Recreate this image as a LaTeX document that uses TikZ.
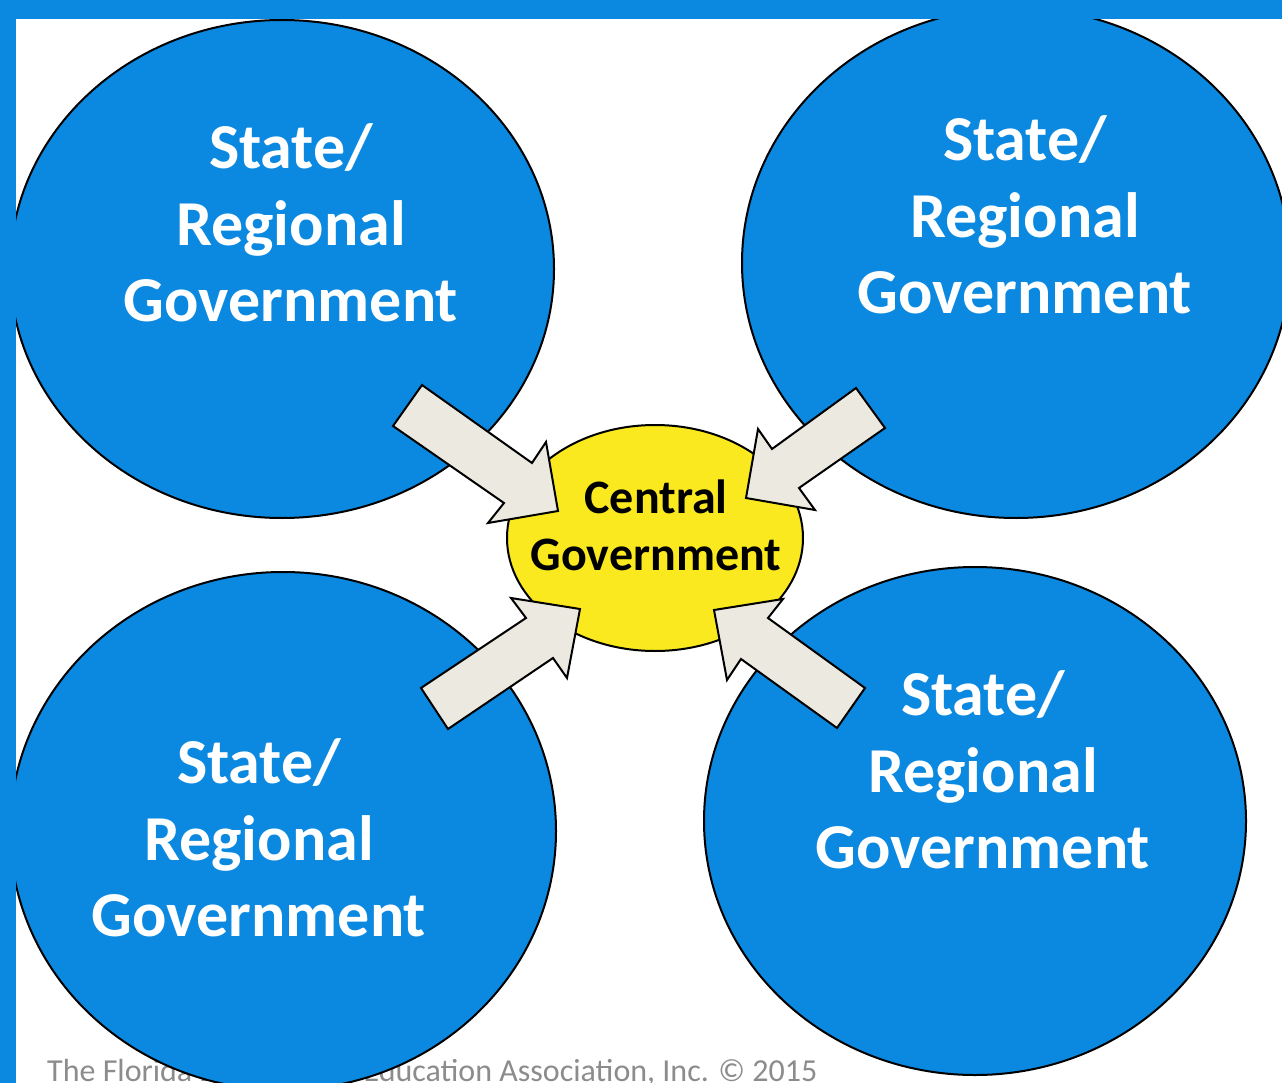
\documentclass[tikz,border=0pt]{standalone}
\usepackage{fontspec}
\setmainfont{Carlito}
\usepackage{tikz}
\usetikzlibrary{shapes.geometric}
\definecolor{govblue}{RGB}{11,137,224}
\definecolor{centralyellow}{RGB}{249,233,30}
\definecolor{arrowfill}{RGB}{236,234,224}
\definecolor{footgray}{RGB}{140,140,140}

\begin{document}
\begin{tikzpicture}[x=1pt, y=-1pt,
	region/.style={ellipse, draw, line width=2pt, fill=govblue, inner sep=0pt},
	regtext/.style={text=white, font=\fontsize{64}{76.5}\selectfont\bfseries, align=center},
	blockarrow/.style={draw, line width=2pt, fill=arrowfill, line join=miter}]
	\clip (0,0) rectangle (1282,1083);
	\fill[white] (0,0) rectangle (1282,1083);
	% Footer
	\node[anchor=base west, inner sep=0pt, text=footgray, font=\fontsize{32}{38}\selectfont] (credit) at (47,1081) {The Florida Law Related Education Association, Inc. \textcopyright{} 2015};
	% Regional governments
	\foreach \n/\cx/\cy/\w/\h/\tx/\ty in {1/282/269/544/498/291/223, 2/1016/263/548/510/1025/215, 3/283/831/546/518/259/838, 4/975/821/542/508/983/770} {
		\node[region, minimum width=\w pt, minimum height=\h pt] (state\n) at (\cx,\cy) {};
		\node[regtext] (label\n) at (\tx,\ty) {State/\\Regional\\Government};
	}
	% Central government
	\node[ellipse, draw, line width=2pt, fill=centralyellow, inner sep=0pt, minimum width=296pt, minimum height=226pt] (central) at (655,538) {};
	\node[font=\fontsize{48}{57}\selectfont\bfseries, align=center] (centraltext) at (656,525) {Central\\Government};
	% Arrows
	\draw[blockarrow] (422,385) -- (532,463) -- (546,442) -- (558,511) -- (488,523) -- (504,503) -- (393,426) -- cycle;
	\draw[blockarrow] (856,388) -- (885,428) -- (799,488) -- (815,510) -- (746,498) -- (758,429) -- (772,449) -- cycle;
	\draw[blockarrow] (421,688) -- (526,618) -- (511,598) -- (580,609) -- (567,678) -- (553,658) -- (448,729) -- cycle;
	\draw[blockarrow] (865,688) -- (768,618) -- (783,599) -- (714,610) -- (727,680) -- (741,659) -- (837,728) -- cycle;
	% Border
	\fill[govblue] (0,0) rectangle (1282,19);
	\fill[govblue] (0,0) rectangle (16,1083);
\end{tikzpicture}
\end{document}
